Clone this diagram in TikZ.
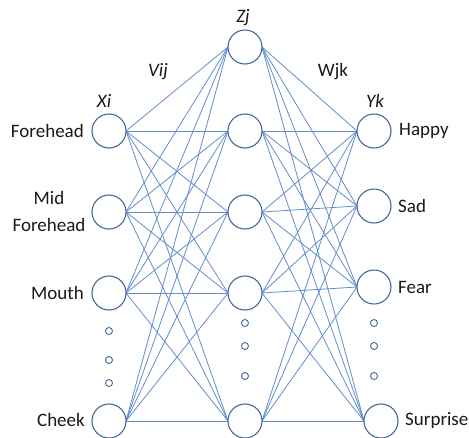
\documentclass[tikz,border=0pt]{standalone}
\usepackage{fontspec}
\setmainfont{Carlito}
\definecolor{linkc}{RGB}{98,142,205}
\definecolor{ringc}{RGB}{72,104,152}
\definecolor{txtc}{RGB}{25,25,25}
\begin{document}
\begin{tikzpicture}[x=1pt,y=-1pt,
  neuron/.style={circle,draw=ringc,line width=1.1pt,fill=white,minimum size=34pt,inner sep=0pt},
  dotc/.style={circle,draw=ringc,line width=0.9pt,minimum size=7pt,inner sep=0pt},
  link/.style={draw=linkc,line width=0.8pt},
  lbl/.style={text=txtc,font=\fontsize{19}{27}\selectfont,inner sep=0pt},
  var/.style={text=txtc,font=\fontsize{19}{20}\selectfont\itshape,inner sep=0pt}]
\useasboundingbox (0,0) rectangle (469,437);
\fill[white] (0,0) rectangle (469,437);
% coordinates of neurons
\coordinate (pi1) at (109,131);
\coordinate (pi2) at (109,212);
\coordinate (pi3) at (109,293);
\coordinate (pi4) at (109,421);
\coordinate (ph0) at (245,47);
\coordinate (ph1) at (245,131);
\coordinate (ph2) at (245,212);
\coordinate (ph3) at (245,293);
\coordinate (ph4) at (245,421);
\coordinate (po1) at (374,131);
\coordinate (po2) at (374,206);
\coordinate (po3) at (374,287);
\coordinate (po4) at (381,421);
% connectors
\foreach \i in {1,...,4}{
  \foreach \j in {0,...,4}{
    \draw[link] ([xshift=17pt]pi\i) -- ([xshift=-17pt]ph\j);
  }
}
\foreach \j in {0,...,4}{
  \foreach \k in {1,...,4}{
    \draw[link] ([xshift=17pt]ph\j) -- ([xshift=-17pt]po\k);
  }
}
% neurons
\foreach \n in {i1,i2,i3,i4,h0,h1,h2,h3,h4,o1,o2,o3,o4}{
  \node[neuron] (\n) at (p\n) {};
}
% dots
\node[dotc] (di1) at (109,331) {};
\node[dotc] (di2) at (109,360) {};
\node[dotc] (di3) at (109,383) {};
\node[dotc] (dh1) at (245,323) {};
\node[dotc] (dh2) at (245,346) {};
\node[dotc] (dh3) at (245,376) {};
\node[dotc] (do1) at (374,323) {};
\node[dotc] (do2) at (374,346) {};
\node[dotc] (do3) at (374,376) {};
% labels
\node[lbl,anchor=east] (t1) at (84,131) {Forehead};
\node[lbl,align=center] (t2) at (49,211) {Mid\\Forehead};
\node[lbl,anchor=east] (t3) at (84,293) {Mouth};
\node[lbl,anchor=east] (t4) at (85,420) {Cheek};
\node[lbl,anchor=west] (u1) at (399,131) {Happy};
\node[lbl,anchor=west] (u2) at (398,206) {Sad};
\node[lbl,anchor=west] (u3) at (398,287) {Fear};
\node[lbl,anchor=west] (u4) at (405,420) {Surprise};
\node[var] (vx) at (104,101) {Xi};
\node[var] (vv) at (158,72) {Vij};
\node[var] (vz) at (243,18) {Zj};
\node[lbl] (vw) at (333,72) {Wjk};
\node[var] (vy) at (375,101) {Yk};
\end{tikzpicture}
\end{document}
